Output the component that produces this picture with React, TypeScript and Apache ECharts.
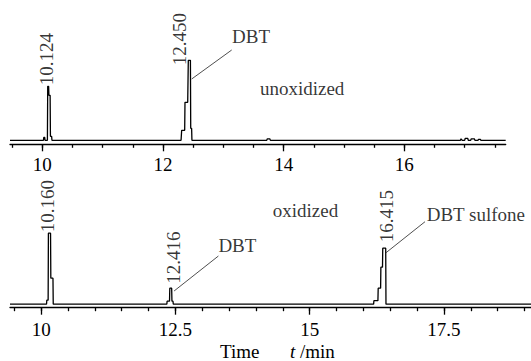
import { useEffect, useRef } from 'react';
import * as echarts from 'echarts';

const FONT = "'Liberation Serif', 'Times New Roman', Times, serif";

// ---- unoxidized chromatogram (time, min / signal) ----
const unoxTime = [9.465, 10.0, 10.02, 10.025, 10.04, 10.045, 10.085, 10.09, 10.105, 10.11, 10.13, 10.135, 10.155, 10.16,
  12.30, 12.31, 12.36, 12.365, 12.41, 12.42, 12.455, 12.46, 12.475, 12.48,
  13.72, 13.73, 13.77, 13.78,
  16.93, 16.94, 16.96, 17.0, 17.01, 17.05, 17.06, 17.1, 17.11, 17.16, 17.17, 17.22, 17.23, 17.26, 17.27, 17.68];
const unoxSignal = [0, 0, 0, 3, 3, 0, 0, 54, 54, 45, 45, 4, 4, 0,
  0, 10, 10, 38, 38, 80, 80, 12, 12, 0,
  0, 1.5, 1.5, 0,
  0, 1.5, 0, 0, 2, 2, 0, 0, 1.5, 1.5, 0, 0, 1, 1, 0, 0];

// ---- oxidized chromatogram ----
const oxTime = [9.42, 10.10, 10.105, 10.13, 10.135, 10.175, 10.18, 10.22, 10.225,
  12.34, 12.345, 12.39, 12.395, 12.43, 12.435, 12.455, 12.46,
  16.19, 16.195, 16.27, 16.275, 16.32, 16.325, 16.355, 16.36, 16.415, 16.42, 19.12];
const oxSignal = [0, 0, 4, 4, 71, 71, 26, 26, 0,
  0, 3, 3, 16, 16, 3, 3, 0,
  0, 3.5, 3.5, 16, 16, 37, 37, 56, 56, 0, 0];

// ---- axis ticks ----
const topMajorTicks = [10, 12, 14, 16];
const topMinorTicks = [9.5, 10, 10.5, 11, 11.5, 12, 12.5, 13, 13.5, 14, 14.5, 15, 15.5, 16, 16.5, 17, 17.5];
const botMajorTicks = [10, 12.5, 15, 17.5];
const botMinorTicks = [9.5, 10, 10.5, 11, 11.5, 12, 12.5, 13, 13.5, 14, 14.5, 15, 15.5, 16, 16.5, 17, 17.5, 18, 18.5, 19];

// ---- annotations ----
const unoxPeakNames = ['10.124', '12.450'];
const unoxPeakAt = [[10.073, 55], [12.282, 75]];
const unoxNotes = ['DBT', 'unoxidized'];
const unoxNoteAt = [[13.144, 103.9], [13.607, 51.6]];
const unoxLeader = [[12.476, 61.3], [13.139, 90.3]];

const oxPeakNames = ['10.160', '12.416', '16.415'];
const oxPeakAt = [[10.125, 72], [12.462, 20.5], [16.434, 62]];
const oxNotes = ['DBT', 'oxidized', 'DBT sulfone'];
const oxNoteAt = [[13.30, 58.8], [14.312, 94.2], [17.178, 89.7]];
const oxLeaderDBT = [[12.475, 13.2], [13.30, 48.2]];
const oxLeaderSulfone = [[16.421, 51.5], [17.147, 82.5]];

const zip = (a: number[], b: number[]) => a.map((v, i) => [v, b[i]]);

export default function App() {
  const ref = useRef<HTMLDivElement>(null);
  useEffect(() => {
    if (!ref.current) return;
    const chart = echarts.init(ref.current, null, { renderer: 'svg' });
    const black = '#000';
    const txt = { fontFamily: FONT, fontSize: 19, color: black };
    const axisMajor = (gridIndex: number, min: number, max: number, ticks: number[], margin: number) => ({
      type: 'value', gridIndex, min, max, position: 'bottom', offset: 0,
      axisLine: { show: true, onZero: false, lineStyle: { color: black, width: 1.3 } },
      axisTick: { show: true, customValues: ticks, length: 7, lineStyle: { color: black, width: 1.3 } },
      axisLabel: { show: true, customValues: ticks, margin, ...txt },
      splitLine: { show: false },
    });
    const axisMinor = (gridIndex: number, min: number, max: number, ticks: number[]) => ({
      type: 'value', gridIndex, min, max, position: 'bottom', offset: 0,
      axisLine: { show: false, onZero: false },
      axisTick: { show: true, customValues: ticks, length: 3.5, lineStyle: { color: black, width: 1.3 } },
      axisLabel: { show: false },
      splitLine: { show: false },
    });
    const trace = (xi: number, yi: number, data: number[][], w = 1.3, color = black) => ({
      type: 'line', xAxisIndex: xi, yAxisIndex: yi, data, showSymbol: false, symbol: 'none',
      lineStyle: { color, width: w }, silent: true, clip: false,
    });
    const labels = (xi: number, yi: number, names: string[], at: number[][], rotate: number) => ({
      type: 'scatter', xAxisIndex: xi, yAxisIndex: yi, symbolSize: 0, silent: true, clip: false,
      data: names.map((n, i) => ({ name: n, value: at[i] })),
      label: {
        show: true, position: 'inside', rotate, align: 'left', verticalAlign: 'middle',
        formatter: (p: any) => p.name, ...txt,
      },
    });
    chart.setOption({
      animation: false,
      backgroundColor: '#fff',
      grid: [
        { left: 10, right: 25.3, top: 0, height: 144.3, outerBoundsMode: 'none' },
        { left: 10, right: 0, top: 164.2, height: 143.5, outerBoundsMode: 'none' },
      ],
      xAxis: [
        axisMajor(0, 9.465, 17.68, topMajorTicks, 11),
        axisMinor(0, 9.465, 17.68, topMinorTicks),
        axisMajor(1, 9.42, 19.12, botMajorTicks, 12),
        axisMinor(1, 9.42, 19.12, botMinorTicks),
      ],
      yAxis: [
        { type: 'value', gridIndex: 0, min: -4, max: 140.3, show: false },
        { type: 'value', gridIndex: 1, min: -3.5, max: 140, show: false },
      ],
      series: [
        trace(0, 0, zip(unoxTime, unoxSignal)),
        trace(2, 1, zip(oxTime, oxSignal)),
        trace(0, 0, unoxLeader, 0.8, '#222'),
        trace(2, 1, oxLeaderDBT, 0.8, '#222'),
        trace(2, 1, oxLeaderSulfone, 0.8, '#222'),
        labels(0, 0, unoxPeakNames, unoxPeakAt, 90),
        labels(0, 0, unoxNotes, unoxNoteAt, 0),
        labels(2, 1, oxPeakNames, oxPeakAt, 90),
        labels(2, 1, oxNotes, oxNoteAt, 0),
      ],
      graphic: [
        { type: 'text', x: 220, y: 351.5, style: { text: 'Time', font: `19px ${FONT}`, fill: black, verticalAlign: 'middle' } },
        { type: 'text', x: 290, y: 351.5, style: { text: 't', font: `italic 19px ${FONT}`, fill: black, verticalAlign: 'middle' } },
        { type: 'text', x: 300, y: 351.5, style: { text: '/min', font: `19px ${FONT}`, fill: black, verticalAlign: 'middle' } },
      ],
    });
    return () => chart.dispose();
  }, []);
  return <div ref={ref} style={{ width: 531, height: 361, position: 'absolute', left: 0, top: 0 }} />;
}
